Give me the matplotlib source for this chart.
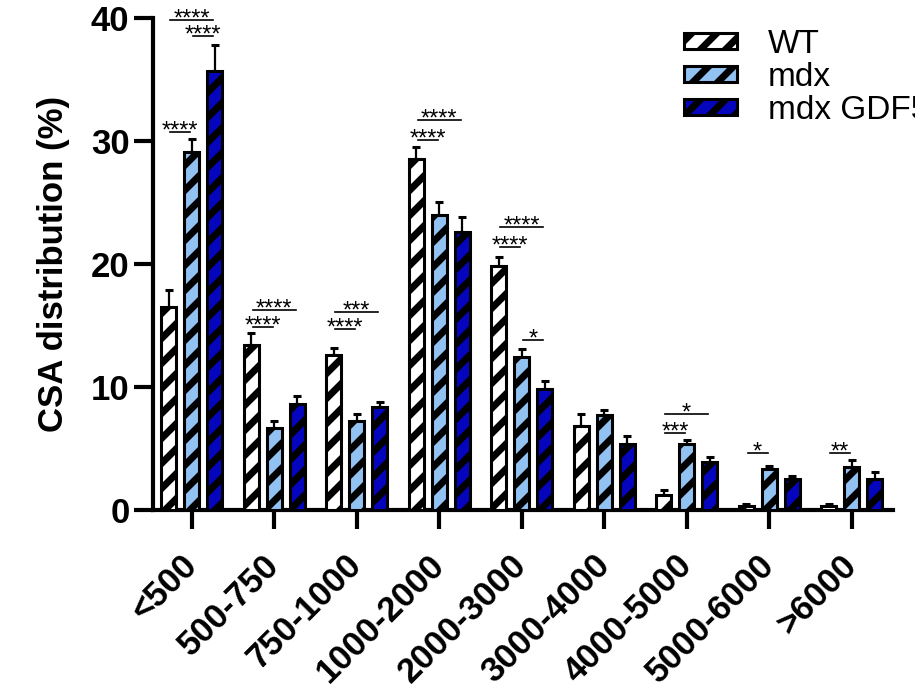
import matplotlib
matplotlib.use("Agg")
import matplotlib.pyplot as plt
import numpy as np
from matplotlib.backend_bases import GraphicsContextBase
from matplotlib.patches import Patch

# adjust hatch stripe spacing (even density keeps the tile seamless)
_orig_hatch = GraphicsContextBase.get_hatch_path
def _hatch_path(self, density=8.0):
    return _orig_hatch(self, density)
GraphicsContextBase.get_hatch_path = _hatch_path

plt.rcParams['font.family'] = ['Liberation Sans', 'DejaVu Sans']
plt.rcParams['hatch.linewidth'] = 5.0
plt.rcParams['hatch.color'] = 'black'

categories = ["<500", "500-750", "750-1000", "1000-2000", "2000-3000",
              "3000-4000", "4000-5000", "5000-6000", ">6000"]
series_names = ["WT", "mdx", "mdx GDF5"]
wt = [16.5, 13.4, 12.6, 28.5, 19.8, 6.8, 1.2, 0.3, 0.3]
wt_err = [1.4, 1.0, 0.6, 1.0, 0.8, 1.0, 0.4, 0.2, 0.2]
mdx = [29.1, 6.7, 7.2, 24.0, 12.4, 7.7, 5.4, 3.3, 3.5]
mdx_err = [1.1, 0.5, 0.6, 1.0, 0.7, 0.4, 0.3, 0.3, 0.6]
gdf5 = [35.7, 8.6, 8.4, 22.6, 9.8, 5.4, 3.9, 2.5, 2.5]
gdf5_err = [2.1, 0.7, 0.4, 1.2, 0.7, 0.6, 0.4, 0.3, 0.6]

# significance: (group, series a, series b, y of bracket, label)
sig_group = [0, 0, 0, 1, 1, 2, 2, 3, 3, 4, 4, 4, 6, 6, 7, 8]
sig_a = [0, 0, 1, 0, 0, 0, 0, 0, 0, 0, 0, 1, 0, 0, 0, 0]
sig_b = [1, 2, 2, 1, 2, 1, 2, 1, 2, 1, 2, 2, 1, 2, 1, 1]
sig_y = [30.7, 39.8, 38.5, 14.9, 16.3, 14.7, 16.1, 30.1, 31.7, 21.4, 23.0, 13.8, 6.3, 7.8, 4.6, 4.6]
sig_text = ["****", "****", "****", "****", "****", "****", "***", "****", "****",
            "****", "****", "*", "***", "*", "*", "**"]

colors = ["white", "#92C2F2", "#0505BE"]
values = [wt, mdx, gdf5]
errors = [wt_err, mdx_err, gdf5_err]

fig = plt.figure(figsize=(9.15, 6.92), dpi=100)
ax = fig.add_axes([0.1672, 0.263, 0.8087, 0.711])

x = np.arange(len(categories))
offset = 0.28
width = 0.18
for i in range(3):
    xs = x + (i - 1) * offset
    ax.bar(xs, values[i], width=width, color=colors[i], edgecolor='black',
           linewidth=2.2, hatch='/', zorder=3)
    ax.errorbar(xs, values[i], yerr=[np.zeros(len(xs)), errors[i]], fmt='none',
                ecolor='black', elinewidth=1.6, capsize=3.2, capthick=2.2, zorder=2)

for g, a, b, yv, t in zip(sig_group, sig_a, sig_b, sig_y, sig_text):
    x1 = g + (a - 1) * offset + 0.02
    x2 = g + (b - 1) * offset - 0.02
    ax.plot([x1, x2], [yv, yv], color='black', lw=1.2, zorder=4, clip_on=False)
    ax.annotate(t, xy=((x1 + x2) / 2, yv), xytext=(0, -4.0), textcoords='offset points',
                ha='center', va='baseline', fontsize=17, zorder=5, annotation_clip=False)

ax.set_xlim(-0.47, 8.5)
ax.set_ylim(0, 40)
ax.set_yticks([0, 10, 20, 30, 40])
ax.set_xticks(x)
ax.set_xticklabels(categories, rotation=45, ha='right', va='center',
                   rotation_mode='anchor', fontsize=25, fontweight='bold')
for lab in ax.get_yticklabels():
    lab.set_fontsize(25)
    lab.set_fontweight('bold')
ax.tick_params(axis='both', width=3, length=14, color='black')
ax.tick_params(axis='x', pad=22)
ax.tick_params(axis='y', pad=3)
for s in ['top', 'right']:
    ax.spines[s].set_visible(False)
for s in ['left', 'bottom']:
    ax.spines[s].set_linewidth(3)
ax.set_ylabel("CSA distribution (%)", fontsize=25, fontweight='bold', labelpad=15)

handles = [Patch(facecolor=colors[i], edgecolor='black', linewidth=2.2, hatch='/')
           for i in range(3)]
fig.legend(handles, series_names, loc='upper left', bbox_to_anchor=(0.748, 0.958),
           frameon=False, fontsize=24, handlelength=1.57, handleheight=0.36,
           handletextpad=0.94, labelspacing=0.06, borderpad=0, borderaxespad=0)

fig.savefig("out.png", dpi=100)
